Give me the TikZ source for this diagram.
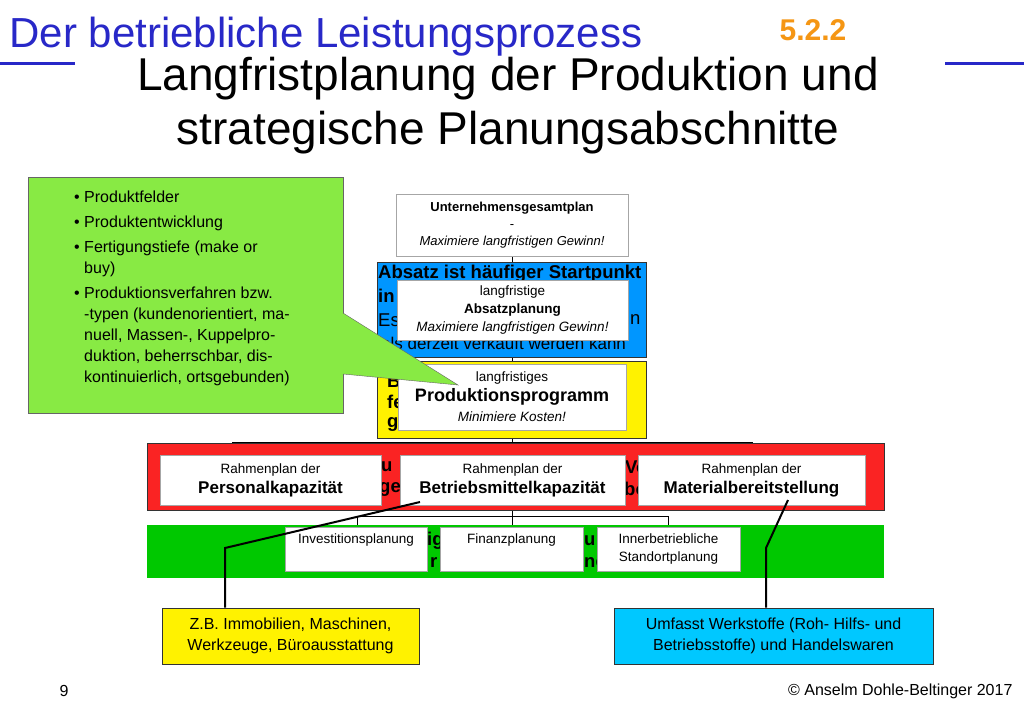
\documentclass[tikz,border=0pt]{standalone}
\usepackage{fontspec}
\setmainfont{Liberation Sans}
\definecolor{cgreen}{RGB}{136,234,68}
\definecolor{cblue}{RGB}{0,150,255}
\definecolor{ccyan}{RGB}{0,200,255}
\definecolor{cgr}{RGB}{0,200,0}
\definecolor{cred}{RGB}{250,35,35}
\definecolor{corange}{RGB}{245,150,20}
\definecolor{cnavy}{RGB}{40,40,200}
\begin{document}
\begin{tikzpicture}[x=1pt,y=-1pt,
  wb/.style={draw=gray!70,fill=white,inner sep=0pt},
  frame/.style={draw=black!80,line width=1pt},
  tl/.style={line width=0.8pt},
  thk/.style={line width=2pt},
  frag/.style={font=\fontsize{18.5}{18.5}\selectfont\bfseries,inner sep=0pt,anchor=west}]
\useasboundingbox (0,0) rectangle (1024,709);
\fill[white] (0,0) rectangle (1024,709);
% header
\draw[line width=3pt,cnavy] (0,63) -- (75,63) (945,63) -- (1024,63);
\node[anchor=west,text=cnavy,font=\fontsize{42}{42}\selectfont] (hdr) at (6,37) {Der betriebliche Leistungsprozess};
\node[text=corange,font=\fontsize{30}{30}\selectfont\bfseries] (num) at (813,30) {5.2.2};
\node[align=center,font=\fontsize{46}{54}\selectfont] (title) at (508,106) {Langfristplanung der Produktion und\\strategische Planungsabschnitte};
% tree lines
\coordinate (vt) at (512,256);
\coordinate (vb) at (512,527);
\draw[tl] (vt) -- (vb);
\draw[tl] (232,455) -- (232,442) -- (752,442) -- (752,455);
\draw[tl] (357,527) -- (357,516) -- (668,516) -- (668,527);
% blue box
\node[frame,fill=cblue,minimum width=269,minimum height=95,inner sep=0pt] (blue) at (511.5,309.5) {};
\node[frag] (f1) at (378,274) {Absatz ist häufiger Startpunkt};
\node[frag] (f2) at (378,296) {in};
\node[frag,font=\fontsize{18.5}{18.5}\selectfont] (f3) at (378,320) {Es};
\node[frag,font=\fontsize{18.5}{18.5}\selectfont] (f4) at (630,320) {n};
\node[frag,font=\fontsize{17}{17}\selectfont] (f5) at (381,343) {als derzeit verkauft werden kann};
% yellow box
\node[frame,fill=yellow,minimum width=269,minimum height=77,inner sep=0pt] (yel) at (511.5,399.5) {};
\node[frag] (f6) at (387,381) {B};
\node[frag] (f7) at (387,402) {fe};
\node[frag] (f8) at (387,424) {g};
% red bar
\node[frame,fill=cred,minimum width=737,minimum height=67,inner sep=0pt] (red) at (515.5,476.5) {};
\node[frag] (f9) at (381,467) {u};
\node[frag] (f10) at (379,489) {ge};
\node[frag] (f11) at (625,467) {Vo};
\node[frag] (f12) at (624,489) {bo};
% green bar
\node[fill=cgr,minimum width=737,minimum height=53,inner sep=0pt] (grn) at (515.5,551.5) {};
\node[frag] (f13) at (427,541) {ig};
\node[frag] (f14) at (430,563) {r};
\node[frag] (f15) at (584,541) {u};
\node[frag] (f16) at (584,563) {ne};
% white boxes
\node[wb,minimum width=232,minimum height=62,align=center,font=\fontsize{13}{17}\selectfont] (top) at (512,225)
 {\textbf{Unternehmensgesamtplan}\\-\\\textit{Maximiere langfristigen Gewinn!}};
\node[wb,minimum width=231,minimum height=60,align=center,font=\fontsize{13.5}{18}\selectfont] (abs) at (512.5,310)
 {langfristige\\\textbf{Absatzplanung}\\\textit{Maximiere langfristigen Gewinn!}};
\node[wb,minimum width=228,minimum height=66,align=center,font=\fontsize{13.5}{20}\selectfont] (prod) at (512,397)
 {langfristiges\\{\fontsize{18}{20}\selectfont\textbf{Produktionsprogramm}}\\\textit{Minimiere Kosten!}};
\node[wb,minimum width=221,minimum height=50,align=center,font=\fontsize{13.5}{20}\selectfont] (pers) at (270.5,480)
 {Rahmenplan der\\{\fontsize{17}{18}\selectfont\textbf{Personalkapazität}}};
\node[wb,minimum width=225,minimum height=50,align=center,font=\fontsize{13.5}{20}\selectfont] (betr) at (512.5,480)
 {Rahmenplan der\\{\fontsize{17}{18}\selectfont\textbf{Betriebsmittelkapazität}}};
\node[wb,minimum width=227,minimum height=50,align=center,font=\fontsize{13.5}{20}\selectfont] (mat) at (751.5,480)
 {Rahmenplan der\\{\fontsize{17}{18}\selectfont\textbf{Materialbereitstellung}}};
\node[wb,minimum width=142,minimum height=44] (inv) at (356,549) {};
\node[anchor=north,inner sep=0pt,font=\fontsize{13.5}{15}\selectfont] (invt) at (inv.north) [yshift=-7pt] {Investitionsplanung};
\node[wb,minimum width=143,minimum height=44] (fin) at (511.5,549) {};
\node[anchor=north,inner sep=0pt,font=\fontsize{13.5}{15}\selectfont] (fint) at (fin.north) [yshift=-7pt] {Finanzplanung};
\node[wb,minimum width=143,minimum height=44,align=center,font=\fontsize{13.5}{18}\selectfont] (inn) at (668.5,549)
 {Innerbetriebliche\\Standortplanung};
% callout
\node[draw=black!60,fill=cgreen,minimum width=315,minimum height=236,inner sep=0pt] (call) at (185.5,295) {};
\coordinate (tip) at (458,385);
\fill[cgreen,draw=black!60] (343,313) -- (tip) -- (343,374);
\fill[cgreen] (341,314) -- (341,373) -- (348,373) -- (348,318) -- cycle;
\node[anchor=north west,align=left,inner sep=0pt,font=\fontsize{16}{21}\selectfont] (callt) at (74,191)
 {• Produktfelder\\[4pt]• Produktentwicklung\\[4pt]• Fertigungstiefe (make or\\\phantom{• }buy)\\[4pt]• Produktionsverfahren bzw.\\\phantom{• }-typen (kundenorientiert, ma-\\\phantom{• }nuell, Massen-, Kuppelpro-\\\phantom{• }duktion, beherrschbar, dis-\\\phantom{• }kontinuierlich, ortsgebunden)};
% bottom boxes
\node[frame,fill=yellow,minimum width=257,minimum height=56,align=center,font=\fontsize{16}{21}\selectfont] (zb) at (290.5,636)
 {Z.B. Immobilien, Maschinen,\\Werkzeuge, Büroausstattung};
\node[frame,fill=ccyan,minimum width=319,minimum height=56,align=center,font=\fontsize{16}{21}\selectfont] (umf) at (773.5,636)
 {Umfasst Werkstoffe (Roh- Hilfs- und\\Betriebsstoffe) und Handelswaren};
\coordinate (l1) at (225,548);
\coordinate (r1) at (766,548);
\draw[thk] (420,502) -- (l1) -- (zb.north -| l1);
\draw[thk] (788,500) -- (r1) -- (umf.north -| r1);
% footer
\node[font=\fontsize{16}{16}\selectfont] (pg) at (64,691) {9};
\node[anchor=east,font=\fontsize{16}{16}\selectfont] (copy) at (1016,691) {© Anselm Dohle-Beltinger 2017};
\end{tikzpicture}
\end{document}
